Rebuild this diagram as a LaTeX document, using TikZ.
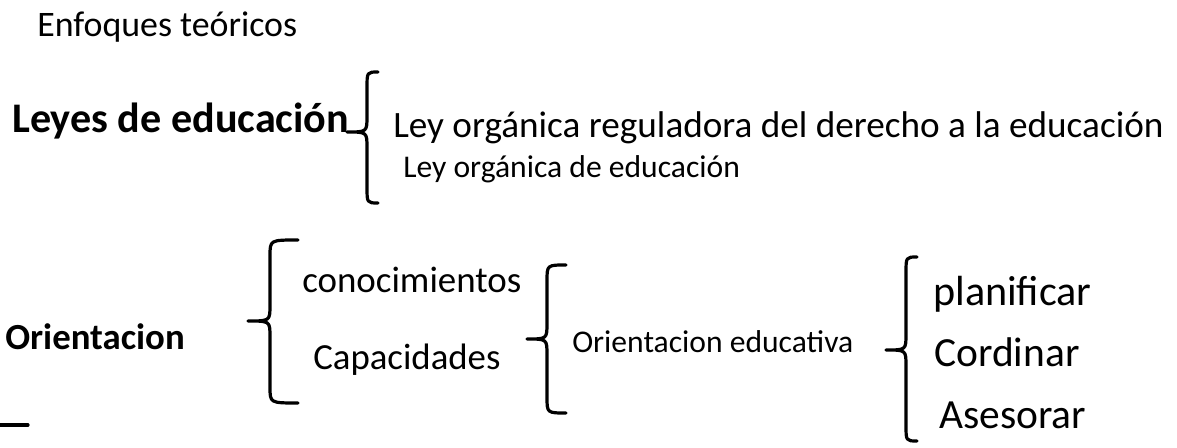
\documentclass[tikz,border=0pt]{standalone}
\usepackage{fontspec}
\setmainfont{Carlito}
\begin{document}
\begin{tikzpicture}
[x=0.75pt,y=-0.75pt,
  textDecorate/.style={anchor=base west,inner sep=0pt},%
  braceDecorate/.style={line width=2.4pt,line cap=round,line join=round}]
\useasboundingbox (0,0) rectangle (1177,448);
%% texts
\foreach \nodename/\x/\y/\fs/\weight/\txt in {
  enfoques/37/37/26.9/m/{Enfoques teóricos},
  leyes/12/133/31.6/b/{Leyes de educación},
  reguladora/393/138/27.9/m/{Ley orgánica reguladora del derecho a la educación},
  organica/403/178/23.7/m/{Ley orgánica de educación},
  orientacion/5/350/27.6/b/{Orientacion},
  conocimientos/302/293/27.7/m/{conocimientos},
  capacidades/313/370/27.6/m/{Capacidades},
  educativa/572/353/23.7/m/{Orientacion educativa},
  planificar/933/306/31.6/m/{planificar},
  cordinar/934/367/31.1/m/{Cordinar},
  asesorar/939/428/31.1/m/{Asesorar}}
{
  \node (\nodename) at (\x,\y) [textDecorate,font=\fontsize{\fs pt}{\fs pt}\fontseries{\weight}\selectfont] {\txt};
}
%% braces
\foreach \xe/\xv/\xt/\ya/\yb/\yc in {
  378/367/347/72/203/132, 298/270/248/240/403/321,
  566/547/527/265/413/339, 917/906/886/257/441/350}
{
  \draw[braceDecorate] (\xe,\ya) .. controls (\xv,\ya) .. (\xv,\ya+16)
    -- (\xv,\yc-16) .. controls (\xv,\yc) .. (\xt,\yc)
    .. controls (\xv,\yc) .. (\xv,\yc+16)
    -- (\xv,\yb-16) .. controls (\xv,\yb) .. (\xe,\yb);
}
\draw[braceDecorate] (0,425) -- (28,425);
\end{tikzpicture}
\end{document}
